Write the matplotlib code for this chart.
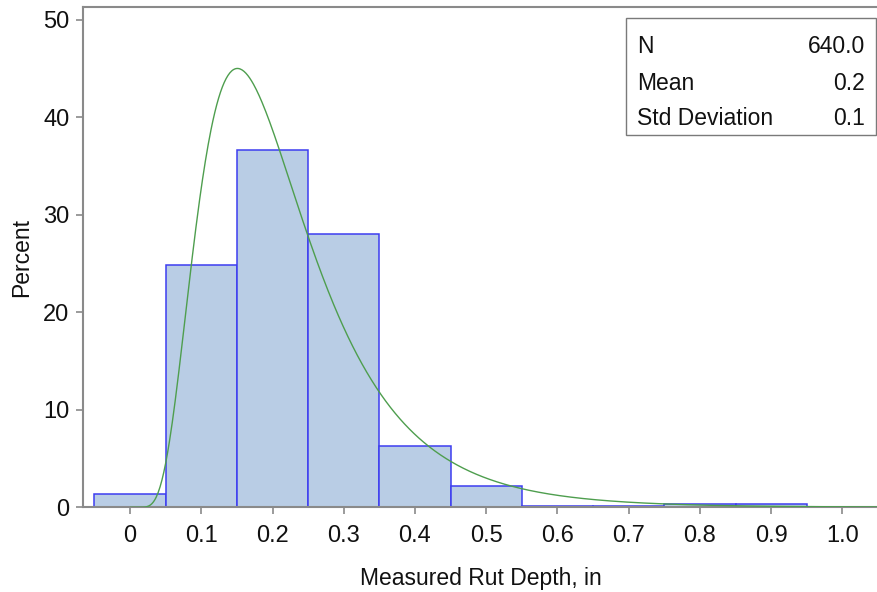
import numpy as np
import matplotlib
matplotlib.use("Agg")
import matplotlib.pyplot as plt
from matplotlib.patches import Rectangle

plt.rcParams['font.family'] = ['Liberation Sans', 'DejaVu Sans']

# Histogram data (percent per bin, bin midpoints)
bin_mids = [0.0, 0.1, 0.2, 0.3, 0.4, 0.5, 0.6, 0.7, 0.8, 0.9]
percents = [1.4, 24.9, 36.6, 28.0, 6.3, 2.2, 0.16, 0.16, 0.3, 0.3]
bin_width = 0.1

# Fitted lognormal curve parameters (threshold 0)
ln_sigma = 0.515
ln_zeta = -1.627

# Inset table
stat_names = ["N", "Mean", "Std Deviation"]
stat_values = ["640.0", "0.2", "0.1"]

x_ticks = [0.0, 0.1, 0.2, 0.3, 0.4, 0.5, 0.6, 0.7, 0.8, 0.9, 1.0]
x_tick_labels = ["0", "0.1", "0.2", "0.3", "0.4", "0.5", "0.6", "0.7", "0.8", "0.9", "1.0"]
y_ticks = [0, 10, 20, 30, 40, 50]

fig = plt.figure(figsize=(8.78, 5.92), dpi=100)
ax = fig.add_axes([0.0949, 0.143, 1.0 - 0.0949, 0.988 - 0.143])

ax.bar(bin_mids, percents, width=bin_width, align='center',
       color='#b9cde5', edgecolor='#3d3df0', linewidth=1.1, zorder=2)

xs = np.linspace(0.001, 1.06, 800)
pdf = np.exp(-(np.log(xs) - ln_zeta) ** 2 / (2 * ln_sigma ** 2)) / (xs * ln_sigma * np.sqrt(2 * np.pi))
ax.plot(xs, pdf * bin_width * 100, color='#4e9e4e', linewidth=1.0, zorder=3)

ax.set_xlim(-0.0656, 1.05)
ax.set_ylim(0, 51.3)
ax.set_xticks(x_ticks)
ax.set_xticklabels(x_tick_labels)
ax.set_yticks(y_ticks)

for side in ['left', 'bottom', 'top']:
    ax.spines[side].set_color('#8a8a8a')
    ax.spines[side].set_linewidth(1.5)
ax.spines['right'].set_visible(False)
ax.tick_params(axis='both', direction='out', length=5, width=1.2, color='#8a8a8a',
               labelsize=17, labelcolor='#111111')
ax.tick_params(axis='x', pad=8)
ax.tick_params(axis='y', pad=5)

ax.set_xlabel("Measured Rut Depth, in", fontsize=16.5, color='#111111', labelpad=14)
ax.set_ylabel("Percent", fontsize=16.5, color='#111111', labelpad=7)

# Inset statistics box (figure pixel coordinates -> fraction)
W, H = 878.0, 592.0
box = Rectangle((626 / W, 1 - 135 / H), (876.5 - 626) / W, (135 - 18.3) / H,
                transform=fig.transFigure, facecolor='white', edgecolor='#7a7a7a',
                linewidth=1.0, zorder=5)
fig.patches.append(box)
row_y = [46.7, 83.3, 118.3]
for name, val, yy in zip(stat_names, stat_values, row_y):
    fig.text(637 / W, 1 - yy / H, name, fontsize=16.5, color='#111111',
             ha='left', va='center', zorder=6)
    fig.text(865 / W, 1 - yy / H, val, fontsize=16.5, color='#111111',
             ha='right', va='center', zorder=6)

fig.savefig("out.png", dpi=100)
